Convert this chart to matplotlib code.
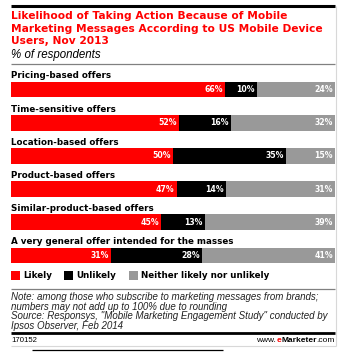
import matplotlib
matplotlib.use("Agg")
import matplotlib.pyplot as plt
from matplotlib.lines import Line2D
from matplotlib.patches import Rectangle
import numpy as np

W, H = 344, 355

title_lines = ["Likelihood of Taking Action Because of Mobile",
               "Marketing Messages According to US Mobile Device",
               "Users, Nov 2013"]
subtitle = "% of respondents"
categories = ["Pricing-based offers", "Time-sensitive offers", "Location-based offers",
              "Product-based offers", "Similar-product-based offers",
              "A very general offer intended for the masses"]
likely = [66, 52, 50, 47, 45, 31]
unlikely = [10, 16, 35, 14, 13, 28]
neither = [24, 32, 15, 31, 39, 41]
series_names = ["Likely", "Unlikely", "Neither likely nor unlikely"]
colors = ["#ff0000", "#000000", "#999999"]
notes = ["Note: among those who subscribe to marketing messages from brands;",
         "numbers may not add up to 100% due to rounding",
         "Source: Responsys, \"Mobile Marketing Engagement Study\" conducted by",
         "Ipsos Observer, Feb 2014"]
chart_id = "170152"

BOLD = "DejaVu Sans"
REG = "Liberation Sans"

fig = plt.figure(figsize=(W / 100, H / 100), dpi=100)
fig.patch.set_facecolor("white")
renderer = fig.canvas.get_renderer()


def fx(x):
    return x / W


def fy(y):
    return 1 - y / H


def fit_size(text, target_px, **kw):
    t = fig.text(0, 0, text, fontsize=10, **kw)
    w = t.get_window_extent(renderer=renderer).width
    t.remove()
    return 10 * target_px / w


def hline(y, x0, x1, lw, color):
    fig.add_artist(Line2D([fx(x0), fx(x1)], [fy(y), fy(y)], transform=fig.transFigure,
                          lw=lw, color=color, solid_capstyle="butt"))


def vline(x, y0, y1, lw, color):
    fig.add_artist(Line2D([fx(x), fx(x)], [fy(y0), fy(y1)], transform=fig.transFigure,
                          lw=lw, color=color, solid_capstyle="butt"))


# decorative rules
hline(6, 11, 335, 2.2, "#000000")
hline(64, 11, 335, 0.9, "#808080")
hline(289, 11, 335, 0.9, "#808080")
hline(333, 11, 335, 2.0, "#000000")
hline(345.5, 11, 336, 0.8, "#d8d8d8")
vline(336, 6, 346, 0.8, "#d8d8d8")
hline(350, 32, 223, 0.9, "#000000")

# title
ts = fit_size(title_lines[1], 312, fontweight="bold", family=BOLD)
for i, t in enumerate(title_lines):
    fig.text(fx(11), fy(16 + i * 12.6), t, color="#ff0000", fontsize=ts,
             fontweight="bold", family=BOLD, va="center", ha="left")
ss = fit_size(subtitle, 90, style="italic", family=REG)
fig.text(fx(11), fy(55), subtitle, color="#000000", fontsize=ss, style="italic",
         family=REG, va="center", ha="left")

# bars
n = len(categories)
spacing = 33.2
top = 89.5 - spacing / 2
ax = fig.add_axes([fx(11), fy(top + n * spacing), fx(335) - fx(11), (n * spacing) / H])
ax.set_xlim(0, 1)
ax.set_ylim(n - 0.5, -0.5)
ax.axis("off")

vs = fit_size("66%", 18.5, fontweight="bold", family=BOLD)
cs = fit_size(categories[-1], 222, fontweight="bold", family=BOLD)

data = np.array([likely, unlikely, neither], dtype=float)
totals = data.sum(axis=0)
frac = data / totals
ypos = np.arange(n)
left = np.zeros(n)
for s in range(3):
    ax.barh(ypos, frac[s], left=left, height=0.47, color=colors[s], linewidth=0)
    for i in range(n):
        ax.annotate(f"{int(data[s, i])}%", xy=(left[i] + frac[s, i], ypos[i]),
                    xytext=(-1.6, 0), textcoords="offset points", ha="right", va="center",
                    color="white", fontsize=vs, fontweight="bold", family=BOLD)
    left = left + frac[s]

for i, c in enumerate(categories):
    ax.text(0, ypos[i] - 0.41, c, ha="left", va="center", fontsize=cs,
            fontweight="bold", family=BOLD, color="#000000")

# legend
legend_x = [11, 64, 129]
ls = fit_size(series_names[2], 127, fontweight="bold", family=BOLD)
for s in range(3):
    fig.add_artist(Rectangle((fx(legend_x[s]), fy(279.5)), 8.5 / W, 8.5 / H,
                             transform=fig.transFigure, color=colors[s], lw=0))
    fig.text(fx(legend_x[s] + 12), fy(275.3), series_names[s], fontsize=ls,
             fontweight="bold", family=BOLD, va="center", ha="left")

# notes
ns = fit_size(notes[0], 308, style="italic", family=REG)
for i, t in enumerate(notes):
    fig.text(fx(11), fy(297 + i * 9.7), t, fontsize=ns, style="italic", family=REG,
             va="center", ha="left", color="#222222")

# footer
fig.text(fx(11), fy(340), chart_id, fontsize=5.6, family=REG, va="center", ha="left")
x_right = 335
parts = [(".com", "normal", "#000000"), ("Marketer", "bold", "#000000"),
         ("e", "bold", "#ff0000"), ("www.", "normal", "#000000")]
for txt, wgt, col in parts:
    t = fig.text(fx(x_right), fy(340), txt, fontsize=6.0, family=REG, fontweight=wgt,
                 color=col, va="center", ha="right")
    bb = t.get_window_extent(renderer=renderer)
    x_right -= bb.width

fig.savefig("out.png", dpi=100, facecolor="white")
